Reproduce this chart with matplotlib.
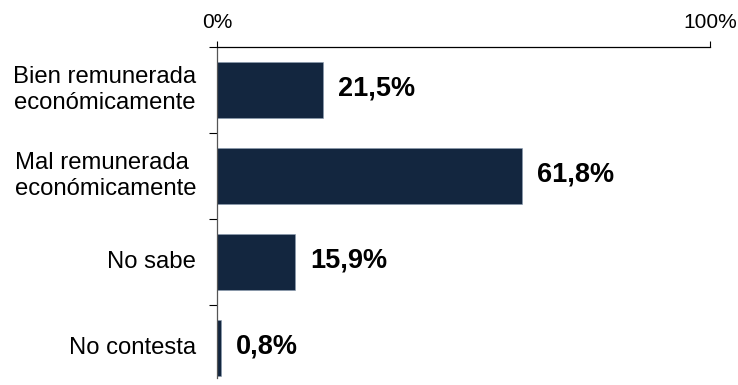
import matplotlib
matplotlib.use("Agg")
import matplotlib.pyplot as plt
from matplotlib.ticker import FixedLocator

plt.rcParams["font.family"] = ["Liberation Sans", "DejaVu Sans"]

categories = ["Bien remunerada\neconómicamente", "Mal remunerada \neconómicamente", "No sabe", "No contesta"]
values = [21.5, 61.8, 15.9, 0.8]
value_labels = ["21,5%", "61,8%", "15,9%", "0,8%"]
tick_values = [0, 100]
tick_labels = ["0%", "100%"]

bar_color = "#13263f"

fig = plt.figure(figsize=(7.38, 3.85), dpi=100)
ax = fig.add_axes([0.294, 0.018, 0.668, 0.860])

pos = list(range(len(categories)))
ax.barh(pos, values, height=0.65, color=bar_color, edgecolor="#8a9bb0", linewidth=0.4)

for p, v, lab in zip(pos, values, value_labels):
    ax.annotate(lab, (v, p), xytext=(11, 1), textcoords="offset points",
                va="center", ha="left", fontsize=19.5, fontweight="bold", color="black")

ax.set_xlim(0, 100)
ax.set_ylim(3.35, -0.5)

ax.xaxis.tick_top()
ax.set_xticks(tick_values)
ax.set_xticklabels(tick_labels, fontsize=15)
ax.tick_params(axis="x", direction="out", length=4.5, width=0.8, pad=6, colors="black")

ax.set_yticks([])
ax.yaxis.set_minor_locator(FixedLocator([-0.5, 0.5, 1.5, 2.5]))
ax.tick_params(axis="y", which="minor", direction="out", length=5.5, width=0.8)
for p, c in zip(pos, categories):
    ax.text(-4.2, p, c, ha="right", va="center", fontsize=17.2, color="black",
            transform=ax.transData, multialignment="center", linespacing=1.2)

for side in ["right", "bottom"]:
    ax.spines[side].set_visible(False)
ax.spines["top"].set_linewidth(0.9)
ax.spines["left"].set_linewidth(0.9)
ax.spines["left"].set_color("#555555")

fig.savefig("out.png", dpi=100)
